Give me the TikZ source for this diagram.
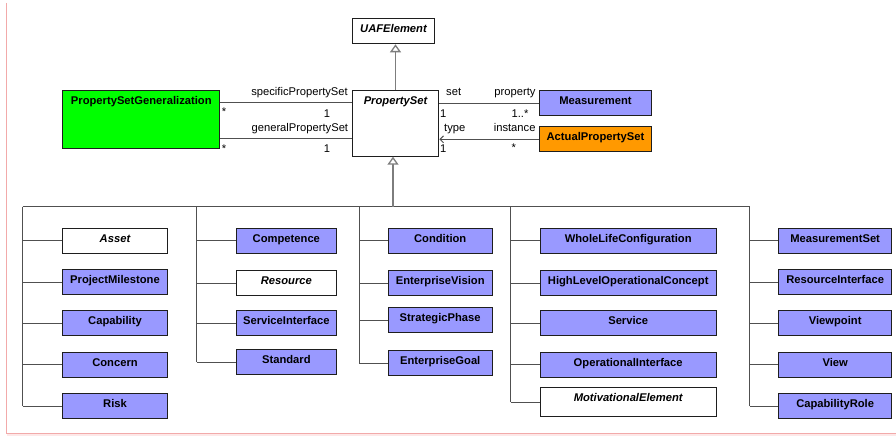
\documentclass[tikz,border=0pt]{standalone}
\usepackage{fontspec}
\setmainfont{Liberation Sans}
\usetikzlibrary{arrows.meta}
\newcommand\myfs{\fontsize{11.2}{13}\selectfont}
\definecolor{lav}{RGB}{153,153,255}
\definecolor{grn}{RGB}{0,255,0}
\definecolor{org}{RGB}{255,153,0}
\definecolor{edgec}{RGB}{30,30,30}
\definecolor{linec}{RGB}{80,80,80}
\definecolor{stemc}{RGB}{125,125,125}
\definecolor{pinkc}{RGB}{242,170,170}
\definecolor{pinkl}{RGB}{253,232,232}
\tikzset{
  cls/.style={draw=edgec, line width=1pt, inner sep=0pt, anchor=north west,
    text height=14pt, text depth=11pt, font=\myfs\bfseries},
  abstr/.style={cls, fill=white, font=\myfs\bfseries\itshape},
  conc/.style={cls, fill=lav},
  tree/.style={draw=linec, line width=1pt},
  assoc/.style={draw=linec, line width=1pt},
  stem/.style={draw=stemc, line width=1.3pt, -{Triangle[open,length=8pt,width=11pt,fill=white]}},
  lbl/.style={font=\myfs, inner sep=0pt, text=black},
}
\begin{document}
\begin{tikzpicture}[x=1pt,y=-1pt]
\useasboundingbox (0,0) rectangle (896,436);
% page frame
\fill[pinkl] (7,434) rectangle (896,436);
\draw[pinkc, line width=1pt] (6.5,3) -- (6.5,433.7) -- (896,433.7);

% top classes
\node[abstr, minimum width=82.6pt] (uaf) at (351.7,18.3) {UAFElement};
\node[abstr, minimum width=86.6pt, text depth=51.7pt] (ps) at (351.7,90) {PropertySet};
\node[cls, fill=grn, minimum width=157pt, text depth=44pt] (psg) at (62.3,90.3) {PropertySetGeneralization};
\node[conc, minimum width=111.4pt] (meas) at (539.3,90.3) {Measurement};
\node[cls, fill=org, minimum width=111.4pt] (aps) at (539.3,126.3) {ActualPropertySet};

% column 1
\node[abstr, minimum width=104.4pt] (asset) at (62.3,227.7) {Asset};
\node[conc, minimum width=104.4pt] (pm) at (62.3,269) {ProjectMilestone};
\node[conc, minimum width=104.4pt] (cap) at (62.3,310.3) {Capability};
\node[conc, minimum width=104.4pt] (concern) at (62.3,351.7) {Concern};
\node[conc, minimum width=104.4pt] (risk) at (62.3,393) {Risk};
% column 2
\node[conc, minimum width=100.3pt] (comp) at (235.7,227.7) {Competence};
\node[abstr, minimum width=100.3pt] (res) at (235.7,270.3) {Resource};
\node[conc, minimum width=100.3pt] (si) at (235.7,310.3) {ServiceInterface};
\node[conc, minimum width=100.3pt] (std) at (235.7,349.3) {Standard};
% column 3
\node[conc, minimum width=104pt] (cond) at (387.7,227.7) {Condition};
\node[conc, minimum width=104pt] (ev) at (387.7,270.3) {EnterpriseVision};
\node[conc, minimum width=104pt] (sp) at (387.7,307) {StrategicPhase};
\node[conc, minimum width=104pt] (eg) at (387.7,350.3) {EnterpriseGoal};
% column 4
\node[conc, minimum width=176pt] (wlc) at (539.7,227.7) {WholeLifeConfiguration};
\node[conc, minimum width=176pt] (hloc) at (539.7,270.3) {HighLevelOperationalConcept};
\node[conc, minimum width=176pt] (svc) at (539.7,310.3) {Service};
\node[conc, minimum width=176pt] (oi) at (539.7,351.7) {OperationalInterface};
\node[abstr, minimum width=176pt, text depth=15pt] (mot) at (539.7,387) {MotivationalElement};
% column 5
\node[conc, minimum width=112.7pt] (ms) at (778.3,227.7) {MeasurementSet};
\node[conc, minimum width=112.7pt] (ri) at (778.3,269) {ResourceInterface};
\node[conc, minimum width=112.7pt] (vp) at (778.3,310.3) {Viewpoint};
\node[conc, minimum width=112.7pt] (view) at (778.3,351.7) {View};
\node[conc, minimum width=112.7pt] (cr) at (778.3,393) {CapabilityRole};

% generalization PropertySet -> UAFElement
\draw[stem] (ps.north) -- (ps.north |- uaf.south);

% tree
\coordinate (c1) at (22.7,206.7);
\coordinate (c2) at (196.7,206.7);
\coordinate (c3) at (359,206.7);
\coordinate (c4) at (510.7,206.7);
\coordinate (c5) at (749.7,206.7);
\coordinate (st) at (393,206.7);
\draw[tree] (c1) -- (c5);
\draw[tree] (c1) -- (risk.west -| c1);
\draw[tree] (c2) -- (std.west -| c2);
\draw[tree] (c3) -- (eg.west -| c3);
\draw[tree] (c4) -- (mot.west -| c4);
\draw[tree] (c5) -- (cr.west -| c5);
\foreach \n in {asset,pm,cap,concern,risk} \draw[tree] (\n.west -| c1) -- (\n.west);
\foreach \n in {comp,res,si,std} \draw[tree] (\n.west -| c2) -- (\n.west);
\foreach \n in {cond,ev,sp,eg} \draw[tree] (\n.west -| c3) -- (\n.west);
\foreach \n in {wlc,hloc,svc,oi,mot} \draw[tree] (\n.west -| c4) -- (\n.west);
\foreach \n in {ms,ri,vp,view,cr} \draw[tree] (\n.west -| c5) -- (\n.west);
\draw[stem] (st) -- (st |- ps.south);

% associations
\coordinate (a1) at ([yshift=-12pt]psg.north east);
\coordinate (a2) at ([yshift=-48pt]psg.north east);
\draw[assoc] (a1) -- (a1 -| ps.west);
\draw[assoc] (a2) -- (a2 -| ps.west);
\draw[assoc] (meas.west) -- (meas.west -| ps.east);
\draw[assoc, -{Straight Barb[length=3.5pt,width=7pt]}] (aps.west) -- (aps.west -| ps.east);

% association end labels
\node[lbl, anchor=base east] at (348,95.5) {specificPropertySet};
\node[lbl, anchor=base] at (224,115.5) {*};
\node[lbl, anchor=base] at (327,117) {1};
\node[lbl, anchor=base east] at (348.3,131.5) {generalPropertySet};
\node[lbl, anchor=base] at (224,152) {*};
\node[lbl, anchor=base] at (327,152.3) {1};
\node[lbl, anchor=base west] at (446,95.5) {set};
\node[lbl, anchor=base east] at (535.7,95.5) {property};
\node[lbl, anchor=base] at (443.3,117) {1};
\node[lbl, anchor=base] at (520,117) {1..*};
\node[lbl, anchor=base west] at (444,131.5) {type};
\node[lbl, anchor=base east] at (535.7,131.5) {instance};
\node[lbl, anchor=base] at (443.3,152.3) {1};
\node[lbl, anchor=base] at (513.7,151.5) {*};
\end{tikzpicture}
\end{document}
